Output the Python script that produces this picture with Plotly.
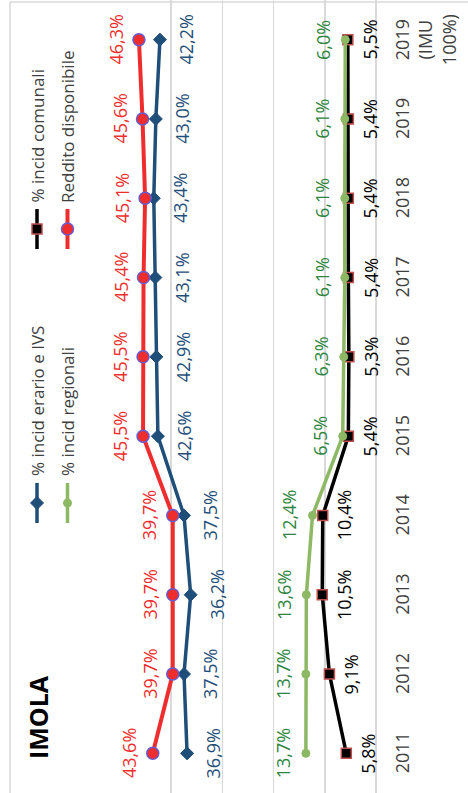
import plotly.graph_objects as go

# ---- data ----
categories = ["2011", "2012", "2013", "2014", "2015", "2016", "2017", "2018", "2019", "2019<br>(IMU<br>100%)"]
erario_ivs = [36.9, 37.5, 36.2, 37.5, 42.6, 42.9, 43.1, 43.4, 43.0, 42.2]
comunali = [5.8, 9.1, 10.5, 10.4, 5.4, 5.3, 5.4, 5.4, 5.4, 5.5]
regionali = [13.7, 13.7, 13.6, 12.4, 6.5, 6.3, 6.1, 6.1, 6.1, 6.0]
reddito = [43.6, 39.7, 39.7, 39.7, 45.5, 45.5, 45.4, 45.1, 45.6, 46.3]
series_names = ["% incid erario e IVS", "% incid comunali", "% incid regionali", "Reddito disponibile"]
title_text = "IMOLA"

# ---- layout constants ----
W, H = 468, 793
ML, MR, MT, MB = 120, 92, 0, 0
PW = W - ML - MR

def px_x(px):
    return (px - ML) / PW

def px_y(py):
    return (H - MB - py) / (H - MT - MB)

BLUE = "#1F4E79"
RED = "#EE2E2E"
GREEN = "#8DB864"
BLACK = "#000000"
GREEN_TXT = "#2E8540"
GRID = "#D9D9D9"
FONT = "Open Sans"

idx = list(range(len(categories)))

fig = go.Figure()

styles = [
    (erario_ivs, series_names[0], BLUE, dict(symbol="diamond", size=10, color=BLUE, line=dict(color=BLUE, width=1)), 3.5),
    (comunali, series_names[1], BLACK, dict(symbol="square", size=10, color=BLACK, line=dict(color="#C0504D", width=1.5)), 3.5),
    (regionali, series_names[2], GREEN, dict(symbol="circle", size=8, color=GREEN, line=dict(color=GREEN, width=1)), 3.5),
    (reddito, series_names[3], RED, dict(symbol="circle", size=12, color=RED, line=dict(color="#6A5ACD", width=1.5)), 4),
]
for vals, name, col, mk, lw in styles:
    fig.add_trace(go.Scatter(x=vals, y=idx, mode="lines+markers", name=name,
                             line=dict(color=col, width=lw), marker=mk, showlegend=False,
                             cliponaxis=False, hoverinfo="skip"))

annotations = []
# data labels
label_specs = [
    (erario_ivs, BLUE, 26),
    (comunali, BLACK, 22),
    (regionali, GREEN_TXT, -23),
    (reddito, RED, -23),
]
for vals, col, shift in label_specs:
    for i, v in zip(idx, vals):
        annotations.append(dict(x=v, y=i, xref="x", yref="y", text=f"{v:.1f}%".replace(".", ","),
                                showarrow=False, textangle=-90, xshift=shift,
                                xanchor="center", yanchor="middle",
                                font=dict(family=FONT, size=18, color=col)))

# category labels
for i, c in zip(idx, categories):
    annotations.append(dict(x=0, y=i, xref="x", yref="y", text=c, showarrow=False, textangle=-90,
                            xanchor="left", yanchor="middle", xshift=12, align="center",
                            font=dict(family=FONT, size=18, color="#404040")))

# legend texts
leg = [
    (series_names[1], 37, 205),
    (series_names[3], 67.5, 205),
    (series_names[0], 37, 478),
    (series_names[2], 67.5, 478),
]
for name, lx, ly in leg:
    annotations.append(dict(x=px_x(lx), y=px_y(ly), xref="paper", yref="paper", text=name,
                            showarrow=False, textangle=-90, xanchor="center", yanchor="bottom",
                            font=dict(family=FONT, size=17, color="#404040")))

# title
annotations.append(dict(x=px_x(38), y=px_y(717), xref="paper", yref="paper", text="<b>" + title_text + "</b>",
                        showarrow=False, textangle=-90, xanchor="center", yanchor="middle",
                        font=dict(family=FONT, size=25, color="#000000")))

shapes = []
# chart border
shapes.append(dict(type="line", xref="paper", yref="paper", x0=px_x(10), x1=px_x(W + 5), y0=px_y(2), y1=px_y(2),
                   line=dict(color=GRID, width=1.5)))
shapes.append(dict(type="line", xref="paper", yref="paper", x0=px_x(10), x1=px_x(10), y0=px_y(2), y1=px_y(H + 5),
                   line=dict(color=GRID, width=1.5)))

# legend symbols
def leg_line(cx, cy, col, w):
    shapes.append(dict(type="line", xref="paper", yref="paper", x0=px_x(cx), x1=px_x(cx),
                       y0=px_y(cy - 20), y1=px_y(cy + 20), line=dict(color=col, width=w)))

leg_line(37, 229, BLACK, 3.5)
shapes.append(dict(type="rect", xref="paper", yref="paper", x0=px_x(32), x1=px_x(42), y0=px_y(224), y1=px_y(234),
                   fillcolor=BLACK, line=dict(color="#C0504D", width=1.5)))
leg_line(67.5, 229, RED, 4)
shapes.append(dict(type="circle", xref="paper", yref="paper", x0=px_x(61.5), x1=px_x(73.5), y0=px_y(223), y1=px_y(235),
                   fillcolor=RED, line=dict(color="#6A5ACD", width=1.5)))
leg_line(37, 503, BLUE, 3.5)
dx, dy = 6.5, 6.5
shapes.append(dict(type="path", xref="paper", yref="paper",
                   path=f"M {px_x(37 - dx)},{px_y(503)} L {px_x(37)},{px_y(503 - dy)} L {px_x(37 + dx)},{px_y(503)} L {px_x(37)},{px_y(503 + dy)} Z",
                   fillcolor=BLUE, line=dict(color=BLUE, width=1)))
leg_line(67.5, 503, GREEN, 3.5)
shapes.append(dict(type="circle", xref="paper", yref="paper", x0=px_x(63.5), x1=px_x(71.5), y0=px_y(499), y1=px_y(507),
                   fillcolor=GREEN, line=dict(color=GREEN, width=1)))

fig.update_layout(
    width=W, height=H,
    margin=dict(l=ML, r=MR, t=MT, b=MB),
    paper_bgcolor="white", plot_bgcolor="white",
    xaxis=dict(range=[50, 0], dtick=10, tick0=0, showgrid=True, gridcolor=GRID, gridwidth=1.5,
               zeroline=True, zerolinecolor=GRID, zerolinewidth=1.5, showticklabels=False,
               showline=False, fixedrange=True),
    yaxis=dict(range=[-0.5, len(categories) - 0.5], showgrid=False, zeroline=False,
               showticklabels=False, showline=False, tickvals=idx, ticktext=categories),
    annotations=annotations,
    shapes=shapes,
    showlegend=False,
    hovermode=False,
)

fig.write_html("out.html", config={"displayModeBar": False, "staticPlot": True},
               post_script="document.body.style.margin='0px';document.body.style.overflow='hidden';")
